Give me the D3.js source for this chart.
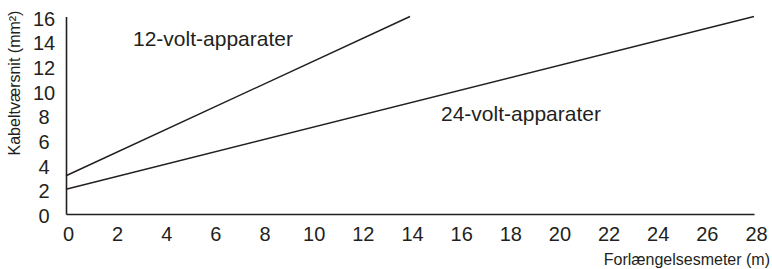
<!DOCTYPE html>
<html><head><meta charset="utf-8">
<script src="https://cdn.jsdelivr.net/npm/d3@7"></script>
<style>body{margin:0;background:#fff}text{font-family:"Liberation Sans",Arial,sans-serif;fill:#231f20}</style>
</head><body>
<svg id="c" width="772" height="269"></svg>
<script>
const xTicks = [0,2,4,6,8,10,12,14,16,18,20,22,24,26,28];
const yTicks = [0,2,4,6,8,10,12,14,16];
const series12 = [{x:0,y:3.1},{x:14,y:16}];
const series24 = [{x:0,y:2.0},{x:28,y:16}];
const seriesLabels = ["12-volt-apparater","24-volt-apparater"];
const xTitle = "Forlængelsesmeter (m)";
const yTitle = "Kabeltværsnit (mm²)";

const svg = d3.select("#c");
const x = d3.scaleLinear().domain([0,28]).range([66,754]);
const y = d3.scaleLinear().domain([0,16]).range([214,16.5]);
const ink = "#231f20";

const xAxis = d3.axisBottom(x).tickValues(xTicks).tickSize(0).tickPadding(0);
const gx = svg.append("g").attr("transform","translate(0,214)").call(xAxis);
gx.select(".domain").attr("stroke",ink).attr("stroke-width",1.6);
gx.selectAll(".tick text").attr("y",26.5).attr("dy",0).attr("dx",2)
  .style("font-size","20px").attr("fill",ink);

const yAxis = d3.axisLeft(y).tickValues(yTicks).tickSize(0).tickPadding(0);
const gy = svg.append("g").attr("transform","translate(66,0)").call(yAxis);
gy.select(".domain").attr("stroke",ink).attr("stroke-width",1.6);
gy.selectAll(".tick text").attr("x",-22).attr("dy","0.38em").attr("text-anchor","middle")
  .style("font-size","20px").attr("fill",ink);
gy.selectAll(".tick").attr("transform", d => `translate(0,${y(d)+1.5})`);

const line = d3.line().x(d=>x(d.x)).y(d=>y(d.y));
[series12, series24].forEach(s => {
  svg.append("path").datum(s).attr("d",line).attr("fill","none")
    .attr("stroke",ink).attr("stroke-width",1.5);
});

svg.append("text").attr("x",133).attr("y",46).style("font-size","21px").text(seriesLabels[0]);
svg.append("text").attr("x",441).attr("y",121).style("font-size","21px").text(seriesLabels[1]);

svg.append("text").attr("x",770).attr("y",265).attr("text-anchor","end")
  .style("font-size","16px").text(xTitle);
svg.append("text").attr("transform","translate(20,83) rotate(-90)").attr("text-anchor","middle")
  .style("font-size","16px").text(yTitle);
</script>
</body></html>
